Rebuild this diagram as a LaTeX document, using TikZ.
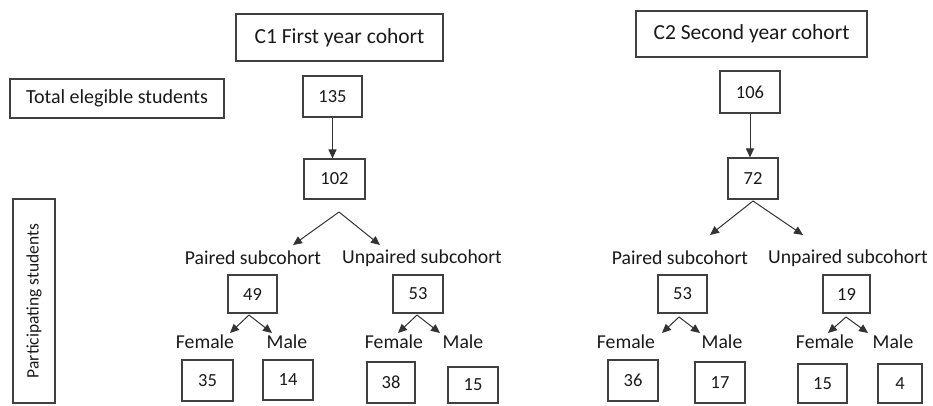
\documentclass[tikz,border=0pt]{standalone}
\usepackage{fontspec}
\setmainfont{Carlito}
\usepackage{tikz}
\usetikzlibrary{arrows.meta,positioning}

\tikzset{
	headbox/.style={draw=black!75, line width=1.1pt, inner sep=0pt, text=black!90},
	numbox/.style={draw=black!75, line width=1.1pt, inner sep=0pt, text=black!90, font=\fontsize{18.5}{20}\selectfont},
	lab/.style={inner sep=0pt, text=black!90, font=\fontsize{19.7}{22}\selectfont},
	arr/.style={->, draw=black!80, line width=1pt},
}

\begin{document}
\begin{tikzpicture}[x=1pt, y=-1pt, >={Triangle[length=9pt,width=8pt]}]
	\useasboundingbox (0,0) rectangle (933,405);

	% row headings
	\node[headbox, minimum width=214pt, minimum height=39pt, font=\fontsize{20}{22}\selectfont] (tot) at (117,98.5) {Total elegible students};
	\node[headbox, minimum width=204pt, minimum height=42pt, rotate=90, font=\fontsize{17.5}{20}\selectfont] (part) at (34,301) {Participating students};

	% C1
	\node[headbox, minimum width=207pt, minimum height=47pt, font=\fontsize{21.5}{24}\selectfont] (c1) at (339.5,37.5) {C1 First year cohort};
	\node[numbox, minimum width=59pt, minimum height=41pt] (n135) at (332.5,96.5) {135};
	\node[numbox, minimum width=61pt, minimum height=40pt] (n102) at (334.5,179) {102};
	\draw[arr] (n135.south) -- (n135.south |- n102.north);

	\coordinate (a102) at (339,212);
	\coordinate (t1l) at (293,245);
	\coordinate (t1r) at (380,245);
	\draw[arr] (a102) -- (t1l);
	\draw[arr] (a102) -- (t1r);

	\node[lab] (p1) at (253,258) {Paired subcohort};
	\node[lab] (u1) at (422,258) {Unpaired subcohort};
	\node[numbox, minimum width=49pt, minimum height=38pt] (n49) at (252.5,294) {49};
	\node[numbox, minimum width=50pt, minimum height=38pt] (n53a) at (418,294) {53};

	\coordinate (b49) at (249,315);
	\coordinate (t49l) at (230,333);
	\coordinate (t49r) at (272,333);
	\draw[arr] (b49) -- (t49l);
	\draw[arr] (b49) -- (t49r);
	\coordinate (b53a) at (417,315);
	\coordinate (t53al) at (398,333);
	\coordinate (t53ar) at (440,333);
	\draw[arr] (b53a) -- (t53al);
	\draw[arr] (b53a) -- (t53ar);

	\node[lab] (f1) at (205,342) {Female};
	\node[lab] (m1) at (287,342) {Male};
	\node[lab] (f2) at (394,342) {Female};
	\node[lab] (m2) at (463,342) {Male};

	\node[numbox, minimum width=51pt, minimum height=41pt] (n35) at (207.5,380.5) {35};
	\node[numbox, minimum width=50pt, minimum height=40pt] (n14) at (288,380) {14};
	\node[numbox, minimum width=48pt, minimum height=41pt] (n38) at (391,382.5) {38};
	\node[numbox, minimum width=50pt, minimum height=36pt] (n15a) at (473,385) {15};

	% C2
	\node[headbox, minimum width=231pt, minimum height=46pt, font=\fontsize{21.5}{24}\selectfont] (c2) at (751.5,34) {C2 Second year cohort};
	\node[numbox, minimum width=60pt, minimum height=42pt] (n106) at (750,92) {106};
	\node[numbox, minimum width=50pt, minimum height=41pt] (n72) at (753,178.5) {72};
	\draw[arr] (n106.south) -- (n106.south |- n72.north);

	\coordinate (a72) at (753,201);
	\coordinate (t2l) at (710,235);
	\coordinate (t2r) at (803,235);
	\draw[arr] (a72) -- (t2l);
	\draw[arr] (a72) -- (t2r);

	\node[lab] (p2) at (680,258) {Paired subcohort};
	\node[lab] (u2) at (848,258) {Unpaired subcohort};
	\node[numbox, minimum width=49pt, minimum height=38pt] (n53b) at (682.5,294) {53};
	\node[numbox, minimum width=47pt, minimum height=38pt] (n19) at (846.5,294) {19};

	\coordinate (b53b) at (679,317);
	\coordinate (t53bl) at (662,333);
	\coordinate (t53br) at (700,333);
	\draw[arr] (b53b) -- (t53bl);
	\draw[arr] (b53b) -- (t53br);
	\coordinate (b19) at (846,317);
	\coordinate (t19l) at (828,333);
	\coordinate (t19r) at (868,333);
	\draw[arr] (b19) -- (t19l);
	\draw[arr] (b19) -- (t19r);

	\node[lab] (f3) at (626,342) {Female};
	\node[lab] (m3) at (722,342) {Male};
	\node[lab] (f4) at (825,342) {Female};
	\node[lab] (m4) at (893,342) {Male};

	\node[numbox, minimum width=50pt, minimum height=41pt] (n36) at (633,380.5) {36};
	\node[numbox, minimum width=50pt, minimum height=41pt] (n17) at (720,382.5) {17};
	\node[numbox, minimum width=49pt, minimum height=39pt] (n15b) at (822.5,383.5) {15};
	\node[numbox, minimum width=44pt, minimum height=39pt] (n4) at (900,383.5) {4};
\end{tikzpicture}
\end{document}
